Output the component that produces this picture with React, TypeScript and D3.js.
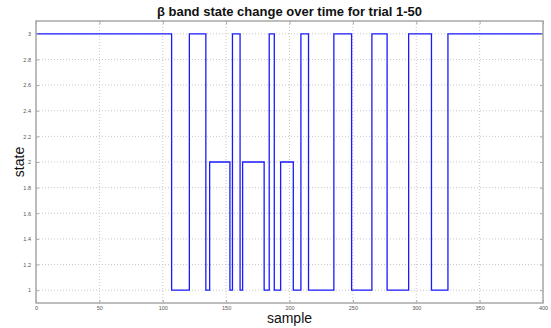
import { useEffect, useRef } from 'react';
import * as d3 from 'd3';

// sample at which each run starts, and the state held during that run
const changeSamples = [0, 107, 121, 134, 137, 153, 155, 161, 163, 180, 184, 188, 193, 203, 209, 215, 235, 249, 265, 277, 294, 312, 325];
const runStates = [3, 1, 3, 1, 2, 1, 3, 1, 2, 1, 3, 1, 2, 1, 3, 1, 3, 1, 3, 1, 3, 1, 3];
const lastSample = 400;

const xTicks = [0, 50, 100, 150, 200, 250, 300, 350, 400];
const yTicks = [1, 1.2, 1.4, 1.6, 1.8, 2, 2.2, 2.4, 2.6, 2.8, 3];

const title = 'β band state change over time for trial 1-50';
const xLabel = 'sample';
const yLabel = 'state';

export default function App() {
  const svgRef = useRef<SVGSVGElement>(null);

  useEffect(() => {
    if (!svgRef.current) return;
    const W = 551;
    const H = 328;
    const margin = { top: 21, right: 8, bottom: 25, left: 36 };
    const width = W - margin.left - margin.right;
    const height = H - margin.top - margin.bottom;

    const root = d3.select(svgRef.current);
    root.selectAll('*').remove();
    root.attr('width', W).attr('height', H);

    root.append('rect').attr('width', W).attr('height', H).attr('fill', '#fff');

    const svg = root.append('g').attr('transform', `translate(${margin.left},${margin.top})`);

    const x = d3.scaleLinear().domain([0, lastSample]).range([0, width]);
    const y = d3.scaleLinear().domain([0.9, 3.1]).range([height, 0]);

    // grid
    svg.append('g')
      .selectAll('line')
      .data(yTicks)
      .enter()
      .append('line')
      .attr('x1', 0)
      .attr('x2', width)
      .attr('y1', (d) => y(d))
      .attr('y2', (d) => y(d))
      .attr('stroke', '#c8c8c8')
      .attr('stroke-width', 1)
      .attr('stroke-dasharray', '1,2');

    svg.append('g')
      .selectAll('line')
      .data(xTicks)
      .enter()
      .append('line')
      .attr('x1', (d) => x(d))
      .attr('x2', (d) => x(d))
      .attr('y1', 0)
      .attr('y2', height)
      .attr('stroke', '#c8c8c8')
      .attr('stroke-width', 1)
      .attr('stroke-dasharray', '1,2');

    // step line
    const pts: [number, number][] = changeSamples.map((s, i) => [s, runStates[i]]);
    pts.push([lastSample, runStates[runStates.length - 1]]);
    const line = d3.line<[number, number]>()
      .x((d) => x(d[0]))
      .y((d) => y(d[1]))
      .curve(d3.curveStepAfter);

    svg.append('path')
      .datum(pts)
      .attr('d', line)
      .attr('fill', 'none')
      .attr('stroke', '#1a1aff')
      .attr('stroke-width', 1.3);

    // axes with inward ticks
    const axisColor = '#a8a8a8';
    const tickFont = '5.5px';

    const left = svg.append('g').call(d3.axisLeft(y).tickValues(yTicks).tickSizeInner(-3).tickSizeOuter(0).tickPadding(5).tickFormat((d) => String(+d)));
    const bottom = svg.append('g').attr('transform', `translate(0,${height})`)
      .call(d3.axisBottom(x).tickValues(xTicks).tickSizeInner(-3).tickSizeOuter(0).tickPadding(3));
    const right = svg.append('g').attr('transform', `translate(${width},0)`)
      .call(d3.axisRight(y).tickValues(yTicks).tickSizeInner(-3).tickSizeOuter(0).tickFormat(() => ''));
    const top = svg.append('g')
      .call(d3.axisTop(x).tickValues(xTicks).tickSizeInner(-3).tickSizeOuter(0).tickFormat(() => ''));

    [left, bottom, right, top].forEach((g) => {
      g.select('.domain').remove();
      g.selectAll('line').attr('stroke', axisColor);
      g.selectAll('text')
        .attr('fill', '#555')
        .style('font-size', tickFont)
        .style('font-family', 'Arial, "Liberation Sans", sans-serif');
    });

    // box
    svg.append('rect')
      .attr('x', 0)
      .attr('y', 0)
      .attr('width', width)
      .attr('height', height)
      .attr('fill', 'none')
      .attr('stroke', axisColor)
      .attr('stroke-width', 1.5);

    // title
    root.append('text')
      .attr('x', margin.left + width / 2)
      .attr('y', 16)
      .attr('text-anchor', 'middle')
      .style('font-family', 'Arial, "Liberation Sans", sans-serif')
      .style('font-size', '13px')
      .style('font-weight', 'bold')
      .attr('fill', '#111')
      .text(title);

    // x label
    root.append('text')
      .attr('x', margin.left + width / 2)
      .attr('y', 323)
      .attr('text-anchor', 'middle')
      .style('font-family', 'Arial, "Liberation Sans", sans-serif')
      .style('font-size', '14px')
      .attr('fill', '#111')
      .text(xLabel);

    // y label
    root.append('text')
      .attr('transform', `translate(24,${margin.top + height / 2}) rotate(-90)`)
      .attr('text-anchor', 'middle')
      .style('font-family', 'Arial, "Liberation Sans", sans-serif')
      .style('font-size', '14px')
      .attr('fill', '#111')
      .text(yLabel);
  }, []);

  return (
    <div style={{ position: 'fixed', left: 0, top: 0 }}>
      <svg ref={svgRef} style={{ display: 'block' }} />
    </div>
  );
}
